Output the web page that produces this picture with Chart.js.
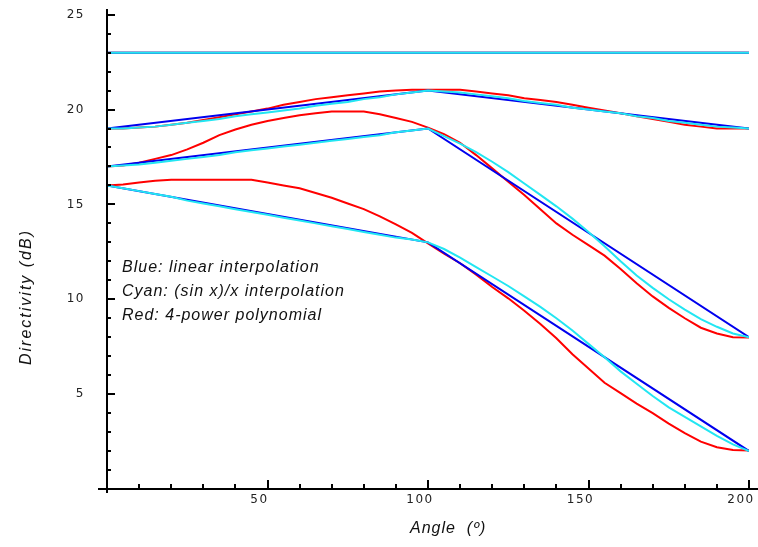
<!DOCTYPE html>
<html>
<head>
<meta charset="utf-8">
<script src="https://cdn.jsdelivr.net/npm/chart.js@4.4.1/dist/chart.umd.min.js"></script>
<style>
  html, body { margin: 0; padding: 0; background: #fff; }
  #wrap { width: 758px; height: 547px; }
</style>
</head>
<body>
<div id="wrap"><canvas id="chart-directivity"></canvas></div>
<script>
// angles sampled for the fitted curves (deg)
const angles = [0, 5, 10, 15, 20, 25, 30, 35, 40, 45, 50, 55, 60, 65, 70, 75, 80, 85, 90, 95,
  100, 105, 110, 115, 120, 125, 130, 135, 140, 145, 150, 155, 160, 165, 170, 175, 180, 185, 190, 195, 200];
// knot angles for the linear interpolation
const knotAngles = [0, 100, 200];

// top group: flat
const blueA = [23, 23, 23];
const cyanA = [23, 23, 23];
const redA = [23, 23, 23];

// second group
const blueB = [19, 21, 19];
const cyanB = [19.0, 19.0, 19.05, 19.1, 19.2, 19.3, 19.4, 19.5, 19.65, 19.75, 19.85, 19.95, 20.05, 20.2, 20.3, 20.4, 20.55, 20.65, 20.8, 20.9,
  21.0, 20.95, 20.9, 20.8, 20.7, 20.6, 20.45, 20.35, 20.25, 20.1, 20.0, 19.9, 19.8, 19.65, 19.55, 19.4, 19.3, 19.2, 19.1, 19.05, 19.0];
const redB = [19.0, 19.0, 19.05, 19.1, 19.2, 19.3, 19.45, 19.6, 19.75, 19.9, 20.05, 20.25, 20.4, 20.55, 20.65, 20.75, 20.85, 20.95, 21.0, 21.05,
  21.05, 21.05, 21.05, 20.95, 20.85, 20.75, 20.6, 20.5, 20.4, 20.25, 20.1, 19.95, 19.8, 19.65, 19.5, 19.35, 19.2, 19.1, 19.0, 19.0, 19.0];

// third group
const blueC = [17, 19, 8];
const cyanC = [17.0, 17.05, 17.1, 17.2, 17.3, 17.4, 17.5, 17.6, 17.75, 17.85, 17.95, 18.05, 18.15, 18.25, 18.35, 18.45, 18.55, 18.65, 18.8, 18.9,
  19.0, 18.6, 18.2, 17.75, 17.25, 16.7, 16.1, 15.5, 14.9, 14.25, 13.55, 12.8, 12.0, 11.25, 10.6, 10.0, 9.45, 8.95, 8.55, 8.2, 8.0];
const redC = [17.0, 17.05, 17.2, 17.4, 17.6, 17.9, 18.25, 18.65, 18.95, 19.2, 19.4, 19.55, 19.7, 19.8, 19.9, 19.9, 19.9, 19.75, 19.55, 19.35,
  19.05, 18.7, 18.25, 17.6, 16.9, 16.2, 15.5, 14.75, 14.0, 13.4, 12.85, 12.3, 11.6, 10.85, 10.15, 9.55, 9.0, 8.5, 8.2, 8.0, 7.98];

// bottom group
const blueD = [16, 13, 2];
const cyanD = [16.0, 15.85, 15.7, 15.55, 15.4, 15.2, 15.05, 14.9, 14.75, 14.6, 14.45, 14.3, 14.15, 14.0, 13.85, 13.7, 13.55, 13.4, 13.25, 13.15,
  13.0, 12.65, 12.2, 11.7, 11.2, 10.7, 10.15, 9.6, 9.0, 8.35, 7.65, 6.95, 6.2, 5.55, 4.9, 4.3, 3.8, 3.3, 2.8, 2.35, 2.0];
const redD = [16.0, 16.05, 16.15, 16.25, 16.3, 16.3, 16.3, 16.3, 16.3, 16.3, 16.15, 16.0, 15.85, 15.6, 15.35, 15.05, 14.75, 14.37, 13.95, 13.5,
  12.95, 12.4, 11.9, 11.3, 10.65, 10.05, 9.4, 8.7, 7.95, 7.1, 6.35, 5.6, 5.05, 4.5, 4.0, 3.45, 2.95, 2.5, 2.2, 2.05, 2.03];

const xTicks = [50, 100, 150, 200];
const yTicks = [5, 10, 15, 20, 25];
const noteLines = ['Blue: linear interpolation', 'Cyan: (sin x)/x interpolation', 'Red: 4-power polynomial'];
const xTitle = 'Angle  (\u00BA)';
const yTitle = 'Directivity (dB)';

window.addEventListener('DOMContentLoaded', () => {
  const ctx = document.getElementById('chart-directivity');

  const RED = '#ff0000';
  const BLUE = '#0000ee';
  const CYAN = '#22e6f2';

  function series(xs, ys, color, order) {
    return {
      data: xs.map((x, i) => ({ x: x, y: ys[i] })),
      borderColor: color,
      borderWidth: 2,
      pointRadius: 0,
      fill: false,
      tension: 0,
      order: order
    };
  }

  const datasets = [
    series(knotAngles, redA, RED, 3),
    series(angles, redB, RED, 3),
    series(angles, redC, RED, 3),
    series(angles, redD, RED, 3),
    series(knotAngles, blueA, BLUE, 2),
    series(knotAngles, blueB, BLUE, 2),
    series(knotAngles, blueC, BLUE, 2),
    series(knotAngles, blueD, BLUE, 2),
    series(knotAngles, cyanA, CYAN, 1),
    series(angles, cyanB, CYAN, 1),
    series(angles, cyanC, CYAN, 1),
    series(angles, cyanD, CYAN, 1)
  ];

  // axes with inward ticks, plus the notes and titles
  const frame = {
    id: 'frame',
    beforeDraw(chart) {
      chart.ctx.letterSpacing = '1.5px';
    },
    afterDraw(chart) {
      const c = chart.ctx;
      const area = chart.chartArea;
      const x = chart.scales.x;
      const y = chart.scales.y;

      c.save();
      c.strokeStyle = '#000';
      c.lineWidth = 2;
      c.beginPath();
      c.moveTo(area.left, area.top);
      c.lineTo(area.left, area.bottom + 4);
      c.moveTo(area.left - 9, area.bottom);
      c.lineTo(chart.width, area.bottom);
      for (let v = 1; v <= 25; v++) {
        const py = Math.round(y.getPixelForValue(v));
        c.moveTo(area.left, py);
        c.lineTo(area.left + (v % 5 ? 4 : 8), py);
      }
      for (let v = 10; v <= 200; v += 10) {
        const px = Math.round(x.getPixelForValue(v));
        c.moveTo(px, area.bottom);
        c.lineTo(px, area.bottom - (v % 50 ? 5 : 9));
      }
      c.stroke();

      c.fillStyle = '#111';
      c.letterSpacing = '1px';
      c.font = 'italic 16px "Liberation Sans", Arial, sans-serif';
      c.textBaseline = 'middle';
      c.textAlign = 'left';
      noteLines.forEach((line, i) => {
        c.fillText(line, area.left + 15, 268 + i * 24);
      });

      c.textAlign = 'left';
      c.textBaseline = 'alphabetic';
      c.fillText(xTitle, 410, 533);

      c.letterSpacing = '2px';
      c.translate(31, 297);
      c.rotate(-Math.PI / 2);
      c.textAlign = 'center';
      c.fillText(yTitle, 0, 0);
      c.restore();
    }
  };

  const tickFont = { family: 'DejaVu Sans', size: 12 };

  new Chart(ctx, {
    type: 'line',
    data: { datasets: datasets },
    options: {
      responsive: true,
      maintainAspectRatio: false,
      animation: false,
      layout: { padding: { left: 0, right: 9, top: 9, bottom: 0 } },
      plugins: {
        legend: { display: false },
        tooltip: { enabled: false }
      },
      scales: {
        x: {
          type: 'linear',
          min: 0,
          max: 200,
          border: { display: false },
          grid: { display: false, drawTicks: false },
          ticks: {
            stepSize: 50,
            padding: 4,
            labelOffset: -8,
            color: '#222',
            font: tickFont,
            maxRotation: 0,
            callback: (v) => (xTicks.includes(v) ? String(v) : '')
          },
          afterFit: (s) => {
            s.height = 58;
            s.paddingLeft = 0;
            s.paddingRight = 0;
          }
        },
        y: {
          type: 'linear',
          min: 0,
          max: 25.3,
          border: { display: false },
          grid: { display: false, drawTicks: false },
          ticks: {
            stepSize: 5,
            includeBounds: false,
            padding: 22,
            color: '#222',
            font: tickFont,
            callback: (v) => (yTicks.includes(v) ? String(v) : '')
          },
          afterFit: (s) => {
            s.width = 107;
            s.paddingTop = 0;
            s.paddingBottom = 0;
          }
        }
      }
    },
    plugins: [frame]
  });
});
</script>
</body>
</html>
